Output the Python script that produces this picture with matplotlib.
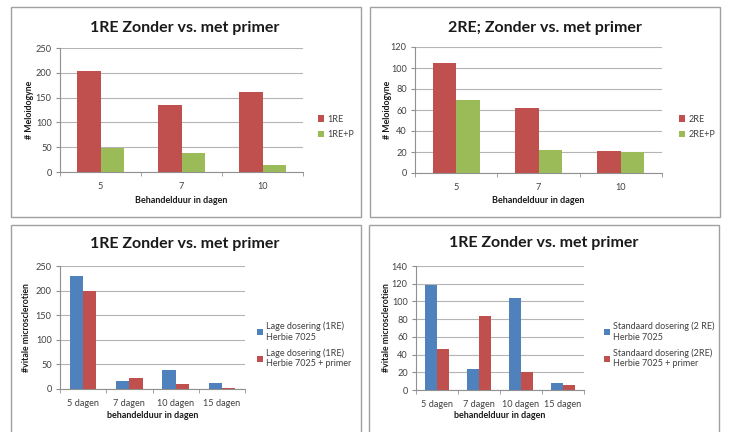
import matplotlib
matplotlib.use("Agg")
import matplotlib.pyplot as plt
import numpy as np
from matplotlib.patches import Rectangle

plt.rcParams['font.family'] = ['Lato', 'DejaVu Sans']

# ---- data ----
tl_categories = ["5", "7", "10"]
tl_1re = [204, 135, 161]
tl_1re_p = [49, 39, 15]

tr_categories = ["5", "7", "10"]
tr_2re = [105, 62, 21]
tr_2re_p = [70, 22, 20]

bl_categories = ["5 dagen", "7 dagen", "10 dagen", "15 dagen"]
bl_herbie = [229, 17, 39, 12]
bl_herbie_primer = [200, 22, 10, 3]

br_categories = ["5 dagen", "7 dagen", "10 dagen", "15 dagen"]
br_herbie = [118, 24, 104, 8]
br_herbie_primer = [46, 84, 20, 6]

RED = "#C0504D"
GREEN = "#9BBB59"
BLUE = "#4F81BD"
GRID = "#B4B4B4"
TXT = "#404040"

W, H = 733, 432
fig = plt.figure(figsize=(W / 100, H / 100), dpi=100)
fig.patch.set_facecolor("white")


def fx(x):
    return x / W


def fy(y):
    return 1 - y / H


def frame(x0, y0, x1, y1):
    fig.patches.append(Rectangle((fx(x0), fy(y1)), fx(x1) - fx(x0), fy(y0) - fy(y1),
                                 transform=fig.transFigure, facecolor="none",
                                 edgecolor="#A0A0A0", linewidth=1.0, zorder=-1))


def panel(box, cats, s1, s2, c1, c2, labels, ymax, ystep, title, title_xy,
          ylabel, ylabel_x, xlabel, xlabel_y, leg_xy, xpad):
    l, r, t, b = box
    ax = fig.add_axes([fx(l), fy(b), fx(r) - fx(l), fy(t) - fy(b)], zorder=2)
    n = len(cats)
    x = np.arange(n)
    w = 1 / 3.5
    h1 = ax.bar(x - w / 2, s1, width=w, color=c1, label=labels[0], zorder=3)
    h2 = ax.bar(x + w / 2, s2, width=w, color=c2, label=labels[1], zorder=3)
    ax.set_xlim(-0.5, n - 0.5)
    ax.set_ylim(0, ymax)
    ax.set_yticks(np.arange(0, ymax + 1, ystep))
    ax.yaxis.grid(True, color=GRID, linewidth=0.8, zorder=0)
    ax.set_axisbelow(True)
    ax.set_xticks(x)
    ax.set_xticklabels(cats)
    ax.set_xticks(np.arange(-0.5, n, 1.0), minor=True)
    ax.tick_params(axis="x", which="major", length=0, pad=xpad, labelsize=6.6, colors=TXT)
    ax.tick_params(axis="x", which="minor", length=3, color="#909090")
    ax.tick_params(axis="y", length=3, color="#909090", labelsize=6.6, colors=TXT, pad=3)
    for s in ("top", "right"):
        ax.spines[s].set_visible(False)
    for s in ("left", "bottom"):
        ax.spines[s].set_color("#909090")
        ax.spines[s].set_linewidth(0.8)
    ax.set_facecolor("none")
    fig.text(fx(title_xy[0]), fy(title_xy[1]), title, ha="center", va="center",
             fontsize=11.5, fontweight="bold", color="#1a1a1a")
    fig.text(fx(ylabel_x), fy((t + b) / 2), ylabel, ha="center", va="center",
             rotation=90, fontsize=6.3, fontweight="bold", color="#1a1a1a")
    fig.text(fx((l + r) / 2), fy(xlabel_y), xlabel, ha="center", va="center",
             fontsize=6.5, fontweight="bold", color="#1a1a1a")
    fig.legend(handles=[h1, h2], loc="center left",
               bbox_to_anchor=(fx(leg_xy[0]), fy(leg_xy[1])),
               frameon=False, fontsize=6.5, handlelength=0.7, handleheight=0.7,
               handletextpad=0.4, labelspacing=0.75, borderpad=0, labelcolor=TXT)
    return ax


# panel frames
frame(11, 7, 361, 217)
frame(370, 7, 720, 217)
frame(11, 225, 361, 440)
frame(369, 225, 719, 440)

panel((60, 303, 48, 172), tl_categories, tl_1re, tl_1re_p, RED, GREEN,
      ["1RE", "1RE+P"], 250, 50, "1RE Zonder vs. met primer", (185, 28),
      "# Meloidogyne", 29, "Behandelduur in dagen", 200, (313, 127), 7)

panel((415, 662, 47, 173), tr_categories, tr_2re, tr_2re_p, RED, GREEN,
      ["2RE", "2RE+P"], 120, 20, "2RE; Zonder vs. met primer", (545, 28),
      "# Meloidogyne", 387, "Behandelduur in dagen", 200, (674, 127), 7)

panel((60, 245, 266, 389), bl_categories, bl_herbie, bl_herbie_primer, BLUE, RED,
      ["Lage dosering (1RE)\nHerbie 7025", "Lage dosering (1RE)\nHerbie 7025 + primer"],
      250, 50, "1RE Zonder vs. met primer", (185, 244),
      "#vitale microsclerotien", 27, "behandelduur in dagen", 416, (252, 345), 7)

panel((416, 584, 266, 390), br_categories, br_herbie, br_herbie_primer, BLUE, RED,
      ["Standaard dosering (2 RE)\nHerbie 7025", "Standaard dosering (2RE)\nHerbie 7025 + primer"],
      140, 20, "1RE Zonder vs. met primer", (544, 243),
      "#vitale microsclerotien", 386, "behandelduur in dagen", 416, (599, 345), 7)

fig.savefig("out.png", dpi=100, facecolor="white")
